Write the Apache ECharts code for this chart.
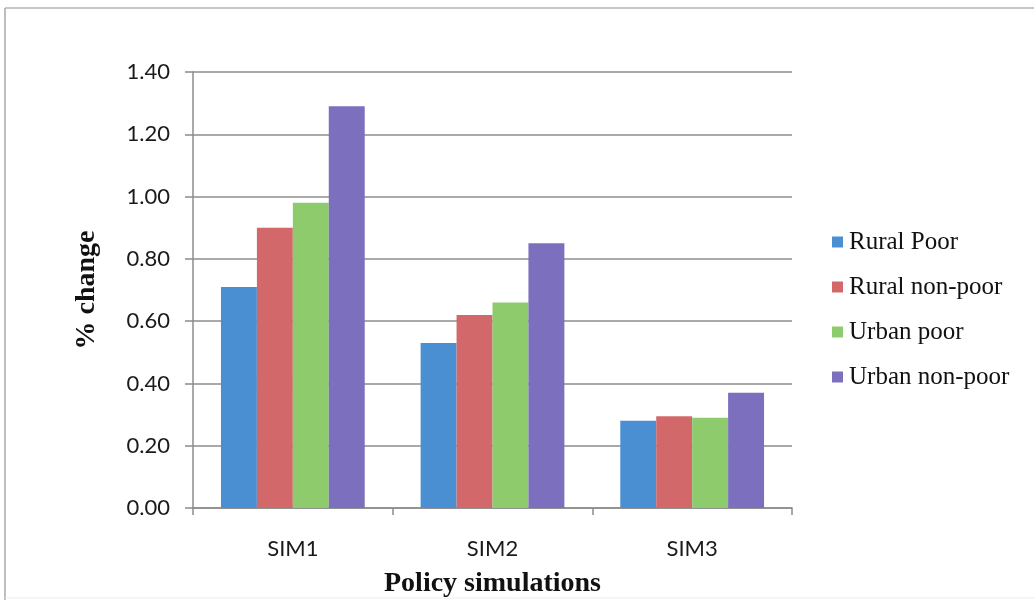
<!DOCTYPE html>
<html>
<head>
<meta charset="utf-8">
<title>Policy simulations</title>
<script src="https://cdn.jsdelivr.net/npm/echarts@6/dist/echarts.min.js"></script>
<style>
  html, body { margin: 0; padding: 0; background: #ffffff; }
  #chart { width: 1036px; height: 600px; }
</style>
</head>
<body>
<div id="chart"></div>
<script>
// Household groups and the simulated % change for each policy run
const categories = ['SIM1', 'SIM2', 'SIM3'];
const seriesNames = ['Rural Poor', 'Rural non-poor', 'Urban poor', 'Urban non-poor'];
const ruralPoor = [0.71, 0.53, 0.28];
const ruralNonPoor = [0.90, 0.62, 0.295];
const urbanPoor = [0.98, 0.66, 0.29];
const urbanNonPoor = [1.29, 0.85, 0.37];
const yTicks = [0, 0.2, 0.4, 0.6, 0.8, 1.0, 1.2, 1.4];

const seriesValues = [ruralPoor, ruralNonPoor, urbanPoor, urbanNonPoor];
const colors = ['#4a8fd2', '#d2686a', '#8ecb6c', '#7c6fbe'];

const chart = echarts.init(document.getElementById('chart'), null, { renderer: 'canvas' });

const option = {
  animation: false,
  backgroundColor: '#ffffff',
  color: colors,
  graphic: [
    { type: 'line', shape: { x1: 5, y1: 8, x2: 1034, y2: 8 }, style: { stroke: '#b4b4b4', lineWidth: 1.5 } },
    { type: 'line', shape: { x1: 5, y1: 8, x2: 5, y2: 600 }, style: { stroke: '#a8a8a8', lineWidth: 1.5 } },
    { type: 'line', shape: { x1: 5, y1: 598, x2: 1034, y2: 598 }, style: { stroke: '#ececec', lineWidth: 1 } }
  ],
  grid: { left: 193, right: 244, top: 72, bottom: 92, containLabel: false, outerBoundsMode: 'none' },
  legend: {
    orient: 'vertical',
    left: 827,
    top: 224,
    itemWidth: 11,
    itemHeight: 11,
    itemGap: 19,
    icon: 'rect',
    data: seriesNames,
    textStyle: { fontFamily: 'Liberation Serif', fontSize: 25, color: '#111111', lineHeight: 26, padding: [0, 0, 0, 1] }
  },
  xAxis: {
    type: 'category',
    data: categories,
    name: 'Policy simulations',
    nameLocation: 'middle',
    nameGap: 62,
    nameTextStyle: { fontFamily: 'Liberation Serif', fontWeight: 'bold', fontSize: 28, color: '#111111' },
    axisLine: { lineStyle: { color: '#8c8c8c', width: 1.5 } },
    axisTick: { show: true, alignWithLabel: false, length: 7, lineStyle: { color: '#8c8c8c', width: 1.5 } },
    axisLabel: { margin: 30, fontFamily: 'Lato', fontSize: 22, color: '#1a1a1a' }
  },
  yAxis: {
    type: 'value',
    min: 0,
    max: 1.4,
    interval: 0.2,
    name: '% change',
    nameLocation: 'middle',
    nameRotate: 90,
    nameGap: 92,
    nameTextStyle: { fontFamily: 'Liberation Serif', fontWeight: 'bold', fontSize: 28, color: '#111111' },
    axisLine: { show: true, lineStyle: { color: '#8c8c8c', width: 1.5 } },
    axisTick: { show: true, length: 8, lineStyle: { color: '#8c8c8c', width: 1.5 } },
    axisLabel: {
      margin: 23,
      fontFamily: 'Lato',
      fontSize: 22,
      color: '#1a1a1a',
      formatter: function (v) {
        const t = yTicks.find(function (k) { return Math.abs(k - v) < 1e-9; });
        return (t !== undefined ? t : v).toFixed(2);
      }
    },
    splitLine: { show: true, lineStyle: { color: '#8c8c8c', width: 1.5 } }
  },
  series: seriesNames.map(function (name, i) {
    return {
      name: name,
      type: 'bar',
      data: seriesValues[i],
      barGap: '0%',
      barCategoryGap: '28%',
      itemStyle: { color: colors[i] }
    };
  })
};

chart.setOption(option);
</script>
</body>
</html>
